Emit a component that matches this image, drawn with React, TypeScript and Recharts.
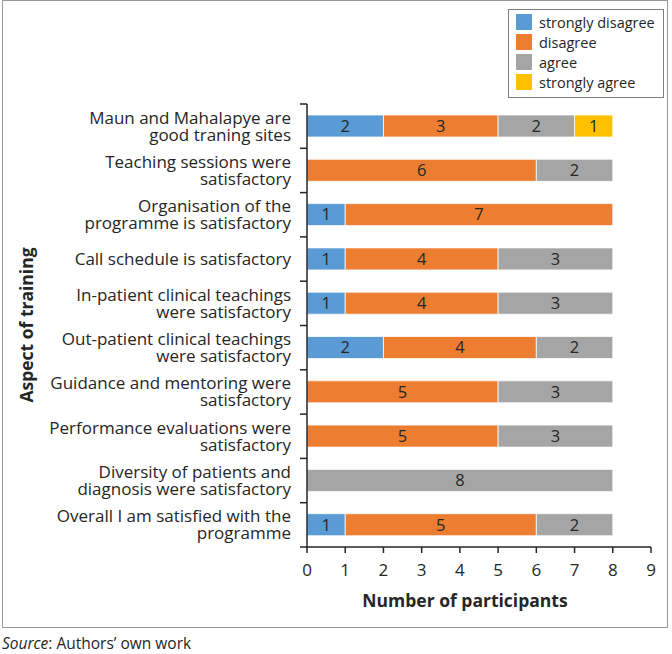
import { BarChart, Bar, XAxis, YAxis, Legend, LabelList } from "recharts";

// Survey responses per aspect of training (top to bottom as drawn)
const categories = [
  "Maun and Mahalapye are\ngood traning sites",
  "Teaching sessions were\nsatisfactory",
  "Organisation of the\nprogramme is satisfactory",
  "Call schedule is satisfactory",
  "In-patient clinical teachings\nwere satisfactory",
  "Out-patient clinical teachings\nwere satisfactory",
  "Guidance and mentoring were\nsatisfactory",
  "Performance evaluations were\nsatisfactory",
  "Diversity of patients and\ndiagnosis were satisfactory",
  "Overall I am satisfied with the\nprogramme",
];
const stronglyDisagree = [2, 0, 1, 1, 1, 2, 0, 0, 0, 1];
const disagree = [3, 6, 7, 4, 4, 4, 5, 5, 0, 5];
const agree = [2, 2, 0, 3, 3, 2, 3, 3, 8, 2];
const stronglyAgree = [1, 0, 0, 0, 0, 0, 0, 0, 0, 0];
const seriesNames = ["strongly disagree", "disagree", "agree", "strongly agree"];
const xTicks = [0, 1, 2, 3, 4, 5, 6, 7, 8, 9];

const data = categories.map((name, i) => ({
  name,
  sd: stronglyDisagree[i],
  d: disagree[i],
  a: agree[i],
  sa: stronglyAgree[i],
}));

const FONT = "'Open Sans', 'Noto Sans', sans-serif";
const TEXT = "#262626";
const AXIS = "#262626";

const W = 672;
const H = 654;
const PLOT_LEFT = 307;
const PLOT_RIGHT = 651;
const PLOT_TOP = 104;
const PLOT_BOTTOM = 547;
const Y_AXIS_W = 290;
const X_AXIS_H = 70;
const BAND = (PLOT_BOTTOM - PLOT_TOP) / categories.length;

function CategoryTick(props: any) {
  const { y, payload, index } = props;
  const lines = String(payload.value).split("\n");
  const lh = 17;
  const y0 = y - ((lines.length - 1) * lh) / 2;
  const last = index === categories.length - 1;
  return (
    <g>
      <text textAnchor="end" fill={TEXT} fontSize={17} fontFamily={FONT}>
        {lines.map((l, i) => (
          <tspan key={i} x={PLOT_LEFT - 16} y={y0 + i * lh} dy="0.35em">
            {l}
          </tspan>
        ))}
      </text>
      <line x1={PLOT_LEFT - 7} x2={PLOT_LEFT} y1={y - BAND / 2} y2={y - BAND / 2} stroke={AXIS} strokeWidth={1.5} />
      {last && (
        <line x1={PLOT_LEFT - 7} x2={PLOT_LEFT} y1={y + BAND / 2} y2={y + BAND / 2} stroke={AXIS} strokeWidth={1.5} />
      )}
    </g>
  );
}

function LegendBox(props: any) {
  const items = [...(props.payload || [])].sort(
    (a: any, b: any) => seriesNames.indexOf(a.value) - seriesNames.indexOf(b.value)
  );
  return (
    <div
      style={{
        border: "1px solid #7f7f7f",
        background: "#fff",
        padding: "2px 7px 5px",
        fontFamily: FONT,
        fontSize: 14.5,
        color: TEXT,
        textAlign: "left",
      }}
    >
      {items.map((p: any) => (
        <div key={p.value} style={{ display: "flex", alignItems: "center", height: 20 }}>
          <span style={{ width: 16, height: 16, background: p.color, display: "inline-block", marginRight: 7 }} />
          <span>{p.value}</span>
        </div>
      ))}
    </div>
  );
}

const fmt = (v: any) => (v ? v : "");

export default function App() {
  return (
    <div style={{ position: "absolute", left: 0, top: 0, width: W, height: H, background: "#fff", fontFamily: FONT }}>
      <div
        style={{
          position: "absolute",
          left: 2,
          top: 0,
          width: 666,
          height: 628,
          border: "1.5px solid #9a9a9a",
          boxSizing: "border-box",
        }}
      />
      <BarChart
        width={W}
        height={H}
        data={data}
        layout="vertical"
        barCategoryGap="50%"
        margin={{
          top: PLOT_TOP,
          right: W - PLOT_RIGHT,
          bottom: H - PLOT_BOTTOM - X_AXIS_H,
          left: PLOT_LEFT - Y_AXIS_W,
        }}
        style={{ position: "absolute", left: 0, top: 0 }}
      >
        <XAxis
          type="number"
          domain={[0, 9]}
          ticks={xTicks}
          interval={0}
          height={X_AXIS_H}
          tickSize={6}
          tickMargin={11}
          axisLine={{ stroke: AXIS, strokeWidth: 1.5 }}
          tickLine={{ stroke: AXIS, strokeWidth: 1.5 }}
          tick={{ fill: TEXT, fontSize: 17, fontFamily: FONT }}
          label={{
            content: () => (
              <text x={465} y={601} dy="0.35em" textAnchor="middle" fill={TEXT} fontSize={17.5} fontWeight={700} fontFamily={FONT}>
                Number of participants
              </text>
            ),
          }}
        />
        <YAxis
          type="category"
          dataKey="name"
          width={Y_AXIS_W}
          interval={0}
          tickLine={false}
          axisLine={{ stroke: AXIS, strokeWidth: 1.5 }}
          tick={<CategoryTick />}
          label={{
            content: () => (
              <text
                x={27}
                y={325}
                dy="0.35em"
                textAnchor="middle"
                fill={TEXT}
                fontSize={17.5}
                fontWeight={700}
                fontFamily={FONT}
                transform="rotate(-90 27 325)"
              >
                Aspect of training
              </text>
            ),
          }}
        />
        <Legend
          layout="horizontal"
          verticalAlign="middle"
          align="center"
          content={<LegendBox />}
          wrapperStyle={{ position: "absolute", left: 508, top: 9, width: 156 }}
        />
        <Bar dataKey="sd" name={seriesNames[0]} stackId="s" fill="#5B9BD5" stroke="#fff" strokeWidth={0.75} barSize={22} isAnimationActive={false}>
          <LabelList dataKey="sd" position="center" formatter={fmt} fill={TEXT} stroke="none" fontSize={16.5} fontFamily={FONT} />
        </Bar>
        <Bar dataKey="d" name={seriesNames[1]} stackId="s" fill="#ED7D31" stroke="#fff" strokeWidth={0.75} barSize={22} isAnimationActive={false}>
          <LabelList dataKey="d" position="center" formatter={fmt} fill={TEXT} stroke="none" fontSize={16.5} fontFamily={FONT} />
        </Bar>
        <Bar dataKey="a" name={seriesNames[2]} stackId="s" fill="#A5A5A5" stroke="#fff" strokeWidth={0.75} barSize={22} isAnimationActive={false}>
          <LabelList dataKey="a" position="center" formatter={fmt} fill={TEXT} stroke="none" fontSize={16.5} fontFamily={FONT} />
        </Bar>
        <Bar dataKey="sa" name={seriesNames[3]} stackId="s" fill="#FFC000" stroke="#fff" strokeWidth={0.75} barSize={22} isAnimationActive={false}>
          <LabelList dataKey="sa" position="center" formatter={fmt} fill={TEXT} stroke="none" fontSize={16.5} fontFamily={FONT} />
        </Bar>
      </BarChart>
      <div style={{ position: "absolute", left: 2, top: 633, fontSize: 15.5, lineHeight: "20px", color: TEXT, fontFamily: FONT }}>
        <i>Source</i>: Authors’ own work
      </div>
    </div>
  );
}
